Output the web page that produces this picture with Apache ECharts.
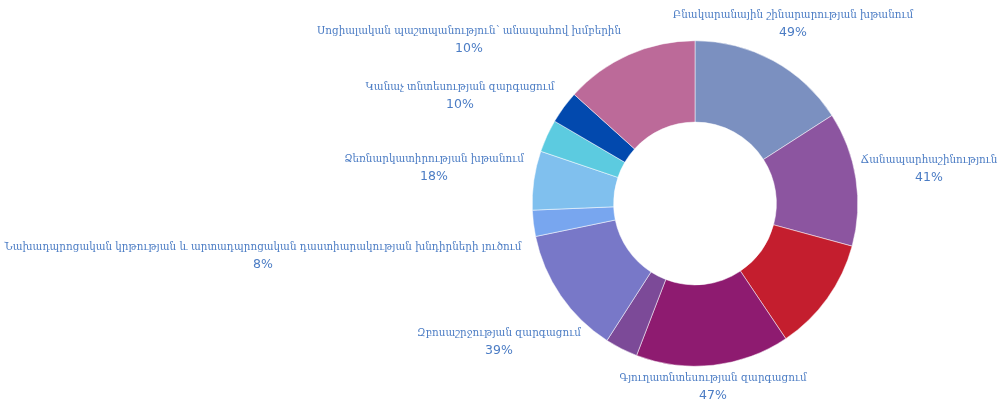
<!DOCTYPE html>
<html style="height: 100%">

<head>
    <meta charset="UTF-8" />
    <script type="text/javascript" src="https://cdn.jsdelivr.net/npm/echarts@6.0.0/dist/echarts.min.js"></script>
</head>

<body style="height: 100%; margin: 0; background: #fff">
    <div id="container" style="height: 100%"></div>
    <script>
        var names = [
            'Բնակարանային շինարարության խթանում',
            'Ճանապարհաշինություն',
            '',
            'Գյուղատնտեսության զարգացում',
            '',
            'Զբոսաշրջության զարգացում',
            'Նախադպրոցական կրթության և արտադպրոցական դաստիարակության խնդիրների լուծում',
            'Ձեռնարկատիրության խթանում',
            'Կանաչ տնտեսության զարգացում',
            'Սոցիալական պաշտպանություն՝ անապահով խմբերին',
            ''
        ];
        var values = [49, 41, 35, 47, 10, 39, 8, 18, 10, 10, 41];
        var showLabel = [true, true, false, true, false, true, true, true, true, true, false];
        var colors = ['#7b90c0', '#8c55a0', '#c41e2e', '#8e1b70', '#7c4a98', '#7878c8',
            '#78a6ef', '#80c0ee', '#5ccbe0', '#0249ae', '#bc6a99'];

        // where each label sits (centre of the text block), the labels are not
        // laid out like the default echarts pie labels
        var labelPos = [[793, 24], [929, 169], null, [713, 387], null, [499, 342],
            [263, 256], [434, 168], [460, 96], [469, 40], null];

        var dom = document.getElementById("container");
        var chart = echarts.init(dom);

        var data = values.map(function (v, i) {
            return {
                value: v,
                name: names[i],
                itemStyle: { color: colors[i] },
                label: { show: showLabel[i] }
            };
        });

        var txt = '#4b7cc4';

        chart.setOption({
            animation: false,
            series: [{
                type: 'pie',
                center: ['69.5%', '50%'],
                radius: ['40%', '80%'],
                startAngle: 90,
                clockwise: true,
                itemStyle: { borderColor: '#fff', borderWidth: 0.5 },
                label: {
                    position: 'outside',
                    width: 600,
                    overflow: 'none',
                    formatter: '{n|{b}}\n{p|{c}%}',
                    color: txt,
                    rich: {
                        n: { align: 'center', fontSize: 11.5, lineHeight: 17, color: txt, fontFamily: '"DejaVu Serif Condensed", "DejaVu Serif", serif' },
                        p: { align: 'center', fontSize: 12.5, lineHeight: 17, color: txt, fontFamily: '"DejaVu Sans", sans-serif' }
                    }
                },
                labelLine: { show: false },
                labelLayout: function (params) {
                    var p = labelPos[params.dataIndex];
                    if (!p) return {};
                    return { x: p[0], y: p[1], align: 'center', verticalAlign: 'middle' };
                },
                data: data
            }]
        });
    </script>
</body>

</html>
